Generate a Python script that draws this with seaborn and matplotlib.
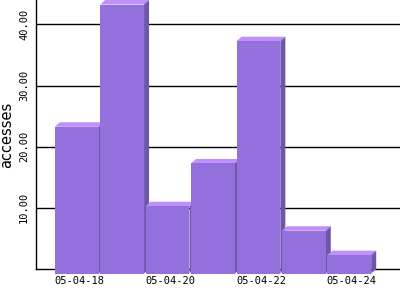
import matplotlib
matplotlib.use("Agg")
import matplotlib.pyplot as plt
import seaborn as sns
import pandas as pd
from matplotlib.patches import Polygon

dates = ["05-04-18", "05-04-19", "05-04-20", "05-04-21", "05-04-22", "05-04-23", "05-04-24"]
accesses = [24, 44, 11, 18, 38, 7, 3]
ytick_values = [10, 20, 30, 40]
ytick_labels = ["10.00", "20.00", "30.00", "40.00"]

FRONT = "#9370DB"
TOP = "#BF8FFA"
SIDE = "#6E57A8"

sns.set_theme(style="white")
plt.rcParams["font.family"] = ["DejaVu Sans Mono", "DejaVu Sans"]

W, H = 400, 300
fig = plt.figure(figsize=(W / 100, H / 100), dpi=100)
L, B = 36, 31
ax = fig.add_axes([L / W, B / H, (W - L) / W, (H - B) / H])

df = pd.DataFrame({"date": dates, "accesses": accesses})
sns.barplot(data=df, x="date", y="accesses", color=FRONT, saturation=1,
            width=0.965, ax=ax, edgecolor="none", linewidth=0)

# axis limits (pixel-calibrated)
bar_px = 318 / 7.0
left_px = 54 - L
ax.set_xlim(-0.5 - left_px / bar_px, -0.5 + (W - L - left_px) / bar_px)
ax.set_ylim(0, 44)

# depth in data units
ax_w_px = W - L
ax_h_px = H - B
xr = ax.get_xlim()[1] - ax.get_xlim()[0]
yr = ax.get_ylim()[1] - ax.get_ylim()[0]
dx = 5.0 * xr / ax_w_px
dy = 4.5 * yr / ax_h_px

for i, p in enumerate(list(ax.patches)):
    x0 = p.get_x()
    w = p.get_width()
    h = p.get_height()
    z = 3 + i * 0.1
    p.set_y(-dy)
    p.set_clip_on(False)
    p.set_zorder(z + 0.05)
    top = Polygon([(x0, h - dy), (x0 + w, h - dy), (x0 + w + dx, h), (x0 + dx, h)],
                  closed=True, facecolor=TOP, edgecolor="none", zorder=z, clip_on=False)
    side = Polygon([(x0 + w, -dy), (x0 + w + dx, 0), (x0 + w + dx, h), (x0 + w, h - dy)],
                   closed=True, facecolor=SIDE, edgecolor="none", zorder=z, clip_on=False)
    ax.add_patch(top)
    ax.add_patch(side)

# grid lines
for v in ytick_values:
    ax.axhline(v, color="black", lw=1.0, zorder=1)

for s in ["top", "right"]:
    ax.spines[s].set_visible(False)
for s in ["left", "bottom"]:
    ax.spines[s].set_color("black")
    ax.spines[s].set_linewidth(1.0)
    ax.spines[s].set_zorder(1)

ax.set_yticks(ytick_values)
ax.set_yticklabels(ytick_labels, rotation=90, va="center", fontsize=7.5)
shift = 2.5 / bar_px
ax.set_xticks([i + shift for i in range(0, len(dates), 2)])
ax.set_xticklabels(dates[::2], fontsize=7.5)
ax.tick_params(axis="both", length=0, colors="black")
ax.tick_params(axis="y", pad=5.0)
ax.tick_params(axis="x", pad=5.0)

ax.set_xlabel("")
ax.set_ylabel("accesses", fontsize=10.5, family="DejaVu Sans", color="black")
ax.yaxis.set_label_coords(-(L - 14) / ax_w_px, 0.5)

fig.savefig("out.png", dpi=100)
